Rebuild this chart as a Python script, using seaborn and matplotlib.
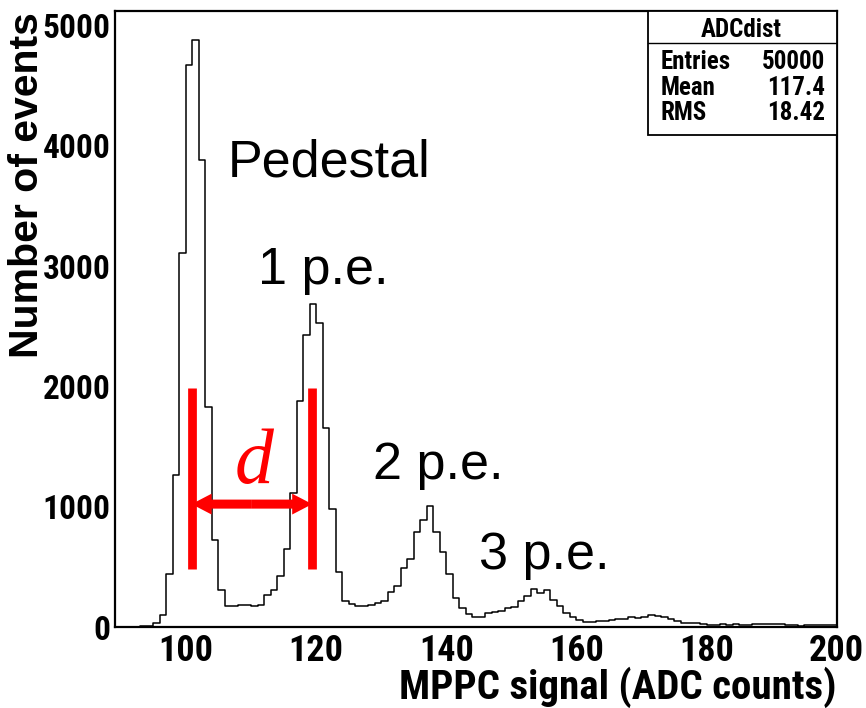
import numpy as np
import pandas as pd
import matplotlib
matplotlib.use("Agg")
import matplotlib.pyplot as plt
import seaborn as sns
from matplotlib import font_manager
from matplotlib.patches import Rectangle, FancyArrowPatch, ArrowStyle
from matplotlib.ticker import MultipleLocator

# ---------------- data ----------------
bin_lo = 89
bin_hi = 200
counts = [3, 3, 3, 4, 5, 8, 34, 102, 441, 1263,            # 89-98
          3106, 4674, 4881, 3887, 1826, 723, 305, 177, 177, 187,  # 99-108
          180, 178, 180, 270, 305, 424, 645, 1118, 1880, 2425,    # 109-118
          2683, 2530, 1658, 980, 454, 219, 191, 177, 171, 183,    # 119-128
          199, 219, 288, 340, 488, 565, 792, 889, 1006, 792,      # 129-138
          626, 440, 238, 155, 108, 86, 86, 119, 122, 130,         # 139-148
          162, 170, 213, 256, 315, 280, 310, 224, 175, 114,       # 149-158
          86, 58, 42, 42, 47, 53, 58, 64, 64, 81,                 # 159-168
          78, 86, 103, 92, 81, 70, 53, 33, 31, 36,                # 169-178
          28, 19, 19, 28, 19, 25, 19, 19, 22, 22,                 # 179-188
          22, 22, 22, 19, 14, 8, 14, 14, 14, 14,                  # 189-198
          14]                                                     # 199
x_ticks = [100, 120, 140, 160, 180, 200]
y_ticks = [0, 1000, 2000, 3000, 4000, 5000]
peak_labels = ["Pedestal", "1 p.e.", "2 p.e.", "3 p.e."]
peak_label_x = [106.45, 111.07, 128.8, 145.1]
peak_label_y = [3748, 2850, 1230, 479]
stats_title = "ADCdist"
stats_names = ["Entries", "Mean", "RMS"]
stats_values = ["50000", "117.4", "18.42"]
d_left, d_right = 100.87, 119.4
d_ymin, d_ymax = 482, 1991
d_arrow_y = 1022
d_text_x, d_text_y = 110.45, 1194

# ---------------- style ----------------
sns.set_style("white")
names = {f.name for f in font_manager.fontManager.ttflist}
NARROW = next((n for n in ["Liberation Sans Narrow", "DejaVu Sans Condensed",
                           "Roboto Condensed"] if n in names), "Liberation Sans")
plt.rcParams["font.family"] = [NARROW, "DejaVu Sans"]
for key in ["text.color", "axes.labelcolor", "xtick.color", "ytick.color",
            "axes.edgecolor"]:
    plt.rcParams[key] = "black"

fig = plt.figure(figsize=(8.66, 7.08), dpi=100)
ax = fig.add_axes([0.1328, 0.1144, 0.8334, 0.8705])

edges = list(range(bin_lo, bin_hi + 1))
df = pd.DataFrame({"adc": np.array(edges[:-1]) + 0.5, "n": counts})
sns.histplot(data=df, x="adc", weights="n", bins=edges, element="step",
             fill=False, color="black", linewidth=1.1, ax=ax)

ax.set_xlim(89.1, 200)
ax.set_ylim(0, 5125)
ax.set_xticks(x_ticks)
ax.set_yticks(y_ticks)
ax.xaxis.set_minor_locator(MultipleLocator(5))
ax.yaxis.set_minor_locator(MultipleLocator(200))
ax.tick_params(axis="both", which="both", direction="in", top=False, right=False,
               width=1.3, color="black", labelcolor="black")
ax.tick_params(axis="x", which="major", length=13, pad=4)
ax.tick_params(axis="x", which="minor", length=6.5)
ax.tick_params(axis="y", which="major", length=14, pad=3)
ax.tick_params(axis="y", which="minor", length=7)
for lbl in ax.get_xticklabels():
    lbl.set_fontsize(26)
    lbl.set_fontweight("bold")
for lbl in ax.get_yticklabels():
    lbl.set_fontsize(24)
    lbl.set_fontweight("bold")
for sp in ax.spines.values():
    sp.set_visible(True)
    sp.set_linewidth(1.6)
    sp.set_color("black")

ax.set_xlabel("MPPC signal (ADC counts)", fontsize=29.5, fontweight="bold",
              loc="right", color="black")
ax.xaxis.set_label_coords(1.0, -0.064)
ax.set_ylabel("Number of events", fontsize=29.5, fontweight="bold", loc="top",
              color="black", family=["Liberation Sans", "DejaVu Sans"])
ax.yaxis.label.set_verticalalignment("center")
ax.yaxis.set_label_coords(-0.122, 0.998)

# peak labels
for t, x, y in zip(peak_labels, peak_label_x, peak_label_y):
    ax.text(x, y, t, fontsize=37.5, ha="left", va="baseline", color="black",
            family=["Liberation Sans", "DejaVu Sans"])

# red annotation
for xv in (d_left, d_right):
    ax.plot([xv, xv], [d_ymin, d_ymax], color="red", lw=6.3,
            solid_capstyle="butt", zorder=5)
mid = 0.5 * (d_left + d_right)
for xe in (d_left, d_right):
    arr = FancyArrowPatch((mid, d_arrow_y), (xe, d_arrow_y),
                          arrowstyle=ArrowStyle.Simple(head_length=14.4,
                                                       head_width=15,
                                                       tail_width=6.5),
                          mutation_scale=1, color="red", lw=0,
                          shrinkA=0, shrinkB=0, zorder=4)
    ax.add_patch(arr)
ax.text(d_text_x, d_text_y, "d", color="red", fontsize=56, style="italic",
        ha="center", va="baseline",
        family=["Liberation Serif", "DejaVu Serif"])

# stats box
x0, y0 = 0.739, 0.798
box = Rectangle((x0, y0), 1.0 - x0, 1.0 - y0, transform=ax.transAxes,
                facecolor="white", edgecolor="black", lw=1.3, zorder=6)
ax.add_patch(box)
ax.plot([x0, 1.0], [0.948, 0.948], transform=ax.transAxes, color="black",
        lw=1.0, zorder=7)
ax.text(0.868, 0.9686, stats_title, transform=ax.transAxes, fontsize=18,
        fontweight="bold", ha="center", va="center", zorder=8)
for yv, nm, vl in zip([0.917, 0.874, 0.8335], stats_names, stats_values):
    ax.text(0.756, yv, nm, transform=ax.transAxes, fontsize=18,
            fontweight="bold", ha="left", va="center", zorder=8)
    ax.text(0.9838, yv, vl, transform=ax.transAxes, fontsize=18,
            fontweight="bold", ha="right", va="center", zorder=8)

fig.savefig("out.png", dpi=100, facecolor="white")
